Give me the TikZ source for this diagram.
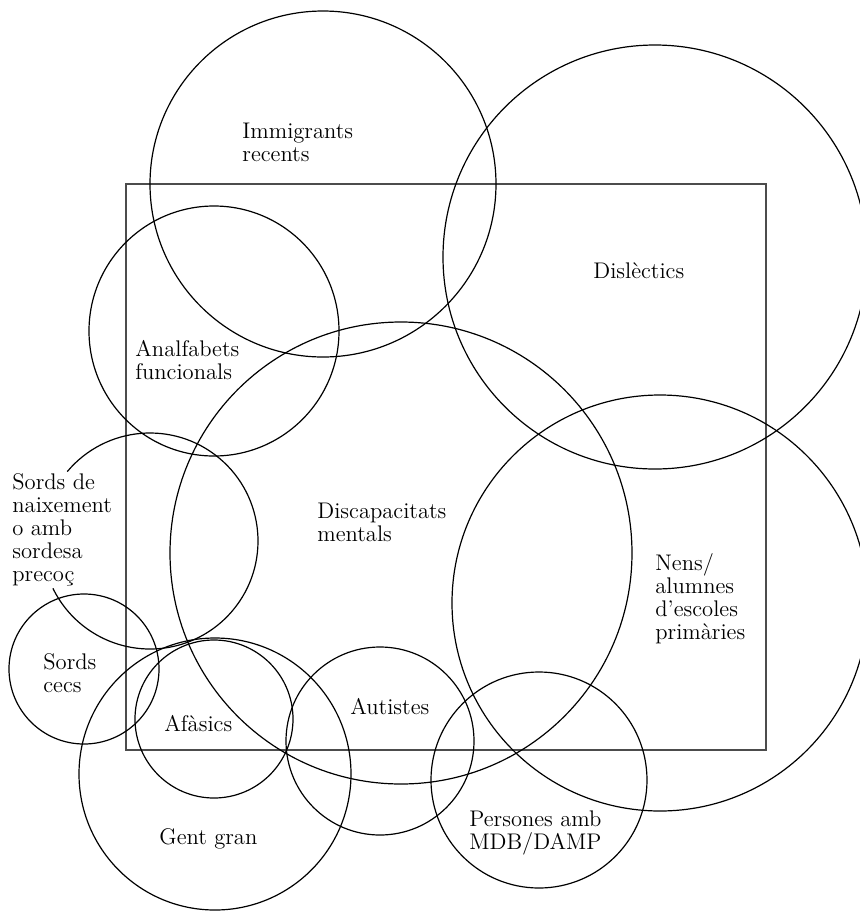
\documentclass[tikz,border=0pt]{standalone}

\begin{document}
\begin{tikzpicture}[x=0.5pt,y=-0.5pt,
  ring/.style={line width=0.6pt},
  lbl/.style={anchor=north west,inner sep=0pt,align=left,
    font=\fontsize{11.3}{11.5}\selectfont}]
  \useasboundingbox (0,0) rectangle (860,912);

  % centres of the groups
  \coordinate (immig) at (323,184);
  \coordinate (dislex) at (655,257);
  \coordinate (analf) at (214,331);
  \coordinate (discap) at (401,553);
  \coordinate (nens) at (660,603);
  \coordinate (sords) at (150,541);
  \coordinate (cecs) at (84,669);
  \coordinate (gent) at (215,774);
  \coordinate (afas) at (214,719);
  \coordinate (autis) at (380,741);
  \coordinate (damp) at (539,780);

  \draw[line width=0.8pt,black!70] (126,184) rectangle (766,750);

  \foreach \c/\r in {immig/173,dislex/212,analf/125,discap/231,nens/208,
                     cecs/75,gent/136,afas/79,autis/94,damp/108}
    \draw[ring] (\c) circle[radius=\r];

  % open circle round the deaf-born group
  \draw[ring] (sords) ++(220:108) arc[start angle=220,end angle=514,radius=108];

  \node[lbl] (limmig) at (242,123) {Immigrants\\recents};
  \node[lbl] (ldislex) at (593,262) {Dislèctics};
  \node[lbl] (lanalf) at (135,340) {Analfabets\\funcionals};
  \node[lbl] (ldiscap) at (317,503) {Discapacitats\\mentals};
  \node[lbl] (lnens) at (655,553) {Nens/\\alumnes\\d’escoles\\primàries};
  \node[lbl] (lsords) at (12,473) {Sords de\\naixement\\o amb\\sordesa\\precoç};
  \node[lbl] (lcecs) at (43,653) {Sords\\cecs};
  \node[lbl] (lafas) at (164,715) {Afàsics};
  \node[lbl] (lautis) at (350,698) {Autistes};
  \node[lbl] (lgent) at (159,828) {Gent gran};
  \node[lbl] (ldamp) at (469,810) {Persones amb\\MDB/DAMP};
\end{tikzpicture}
\end{document}
